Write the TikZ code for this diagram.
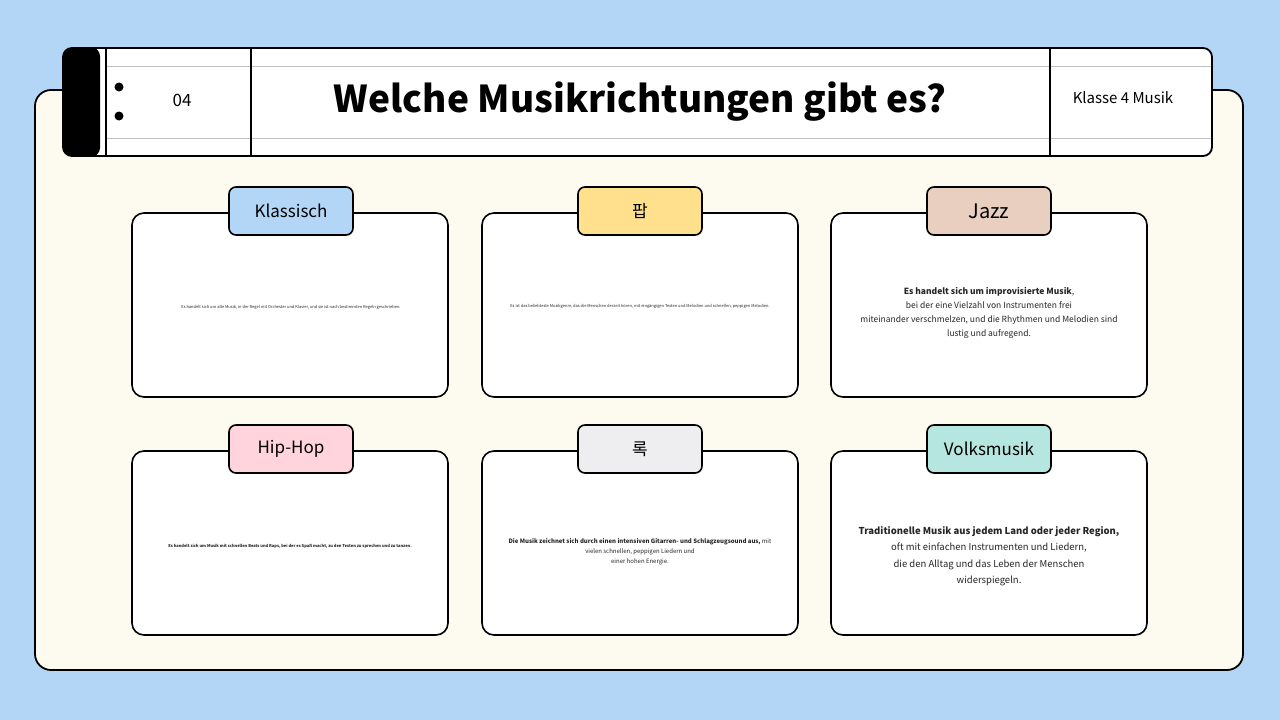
\documentclass[tikz,border=0pt]{standalone}
\usepackage{fontspec}
\setmainfont{Noto Sans CJK KR}
\begin{document}
\begin{tikzpicture}[x=1pt,y=-1pt,
  card/.style={draw=black,line width=1.6pt,fill=white,rounded corners=12pt},
  tab/.style={draw=black,line width=1.6pt,rounded corners=7pt,minimum width=124pt,minimum height=48pt,font=\fontsize{17}{20}\selectfont},
  body/.style={align=center,text=black!85}]
\useasboundingbox (0,0) rectangle (1280,720);
\fill[fill={rgb,255:red,179;green,214;blue,247}] (0,0) rectangle (1280,720);
\draw[line width=1.8pt,fill={rgb,255:red,253;green,251;blue,239},rounded corners=16pt] (35,90) rectangle (1243,670);
% header
\draw[line width=1.8pt,fill=white,rounded corners=9pt] (63,48) rectangle (1212,156);
\fill[black,rounded corners=8pt] (63,48) rectangle (100,156);
\fill[black] (90,48) rectangle (97,156);
\draw[black!25,line width=1pt] (106,66) -- (1211,66) (106,138) -- (1211,138);
\draw[line width=1.6pt] (106,48) -- (106,156) (251,48) -- (251,156) (1050,48) -- (1050,156);
\fill (119,87) circle (4.5pt) (119,116) circle (4.5pt);
\node (num) at (182,100) {\fontsize{17}{20}\selectfont 04};
\node (title) at (640,102) {\fontsize{37}{44}\selectfont\bfseries Welche Musikrichtungen gibt es?};
\node (cls) at (1123,98) {\fontsize{15}{18}\selectfont Klasse 4 Musik};
% cards
\foreach \x/\y/\n in {132/213/a,482/213/b,831/213/c,132/451/d,482/451/e,831/451/f}{
  \draw[card] (\x,\y) rectangle ++(316,184);
  \coordinate (\n) at (\x+158,\y);
}
\node[tab,fill={rgb,255:red,179;green,214;blue,247}] (ta) at (291,211) {Klassisch};
\node[tab,fill={rgb,255:red,255;green,224;blue,140}] (tb) at (640,211) {팝};
\node[tab,fill={rgb,255:red,232;green,207;blue,192},font=\fontsize{20}{24}\selectfont] (tc) at (989,211) {Jazz};
\node[tab,fill={rgb,255:red,255;green,212;blue,220}] (td) at (291,449) {Hip-Hop};
\node[tab,fill={rgb,255:red,238;green,237;blue,240}] (te) at (640,449) {록};
\node[tab,fill={rgb,255:red,181;green,230;blue,223}] (tf) at (989,449) {Volksmusik};
\node[body,font=\fontsize{4}{5}\selectfont] (xa) at (291,307) {Es handelt sich um alte Musik, in der Regel mit Orchester und Klavier, und sie ist nach bestimmten Regeln geschrieben.};
\node[body,font=\fontsize{4}{5}\selectfont] (xb) at (640,306) {Es ist das beliebteste Musikgenre, das die Menschen derzeit hören, mit eingängigen Texten und Melodien und schnellen, peppigen Melodien.};
\node[body,font=\fontsize{8.5}{13.7}\selectfont] (xc) at (989,313) {\textbf{Es handelt sich um improvisierte Musik}, \\ bei der eine Vielzahl von Instrumenten frei\\ miteinander verschmelzen, und die Rhythmen und Melodien sind\\ lustig und aufregend.};
\node[body,font=\fontsize{4}{5}\selectfont\bfseries] (xd) at (290,546) {Es handelt sich um Musik mit schnellen Beats und Raps, bei der es Spaß macht, zu den Texten zu sprechen und zu tanzen.};
\node[body,font=\fontsize{6}{10}\selectfont] (xe) at (640,552) {\textbf{Die Musik zeichnet sich durch einen intensiven Gitarren- und Schlagzeugsound aus,} mit\\ vielen schnellen, peppigen Liedern und\\ einer hohen Energie.};
\node[body,font=\fontsize{9.5}{16.5}\selectfont] (xf) at (989,556) {\textbf{Traditionelle Musik aus jedem Land oder jeder Region,}\\ oft mit einfachen Instrumenten und Liedern,\\ die den Alltag und das Leben der Menschen\\ widerspiegeln.};
\end{tikzpicture}
\end{document}
